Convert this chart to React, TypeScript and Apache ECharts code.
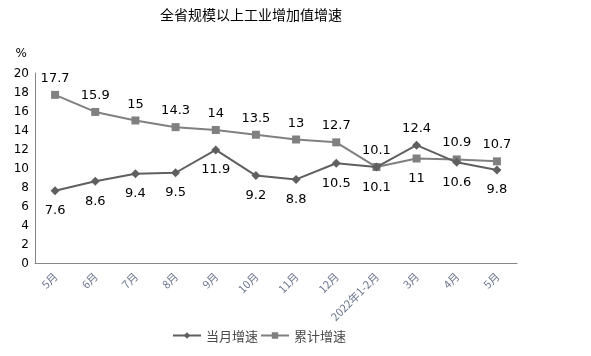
import React, { useEffect, useRef } from "react";
import * as echarts from "echarts";

const categories = ["5月", "6月", "7月", "8月", "9月", "10月", "11月", "12月", "2022年1-2月", "3月", "4月", "5月"];
const monthly = [7.6, 8.6, 9.4, 9.5, 11.9, 9.2, 8.8, 10.5, 10.1, 12.4, 10.6, 9.8];
const cumulative = [17.7, 15.9, 15, 14.3, 14, 13.5, 13, 12.7, 10.1, 11, 10.9, 10.7];
const monthlyLabelPos = ["bottom", "bottom", "bottom", "bottom", "bottom", "bottom", "bottom", "bottom", "bottom", "top", "bottom", "bottom"];
const cumulativeLabelPos = ["top", "top", "top", "top", "top", "top", "top", "top", "top", "bottom", "top", "top"];

const FONT = "'DejaVu Sans', 'Noto Sans CJK SC', sans-serif";

function lbl(pos: string) {
  return { position: pos, distance: pos === "top" ? 7 : 8 };
}

export default function App() {
  const ref = useRef<HTMLDivElement>(null);
  useEffect(() => {
    const chart = echarts.init(ref.current!, null, { renderer: "svg" });
    chart.setOption({
      animation: false,
      textStyle: { fontFamily: FONT },
      title: {
        text: "全省规模以上工业增加值增速",
        left: 155,
        top: 2,
        textStyle: { fontSize: 14, fontWeight: "normal", color: "#000", fontFamily: "'Noto Sans CJK SC', sans-serif" },
      },
      legend: {
        bottom: 9,
        left: 167,
        itemWidth: 28,
        itemHeight: 8,
        itemGap: 2,
        textStyle: { fontSize: 13, color: "#4a4a4a", fontFamily: "'Noto Sans CJK SC', sans-serif" },
        data: ["当月增速", "累计增速"],
      },
      grid: { left: 35, right: 74, top: 73, bottom: 93 },
      xAxis: {
        type: "category",
        data: categories,
        boundaryGap: true,
        axisLine: { lineStyle: { color: "#868686" } },
        axisTick: { show: false },
        axisLabel: { rotate: 45, fontSize: 11, color: "#6c7690", margin: 11, interval: 0, fontFamily: "'Noto Sans CJK SC', sans-serif" },
      },
      yAxis: {
        type: "value",
        min: 0,
        max: 20,
        interval: 2,
        name: "%",
        nameLocation: "end",
        nameGap: 14,
        nameTextStyle: { color: "#000", fontSize: 12, align: "right", padding: [0, 8, 0, 0] },
        axisLine: { show: true, lineStyle: { color: "#868686" } },
        axisTick: { show: false },
        splitLine: { show: false },
        axisLabel: { fontSize: 12, color: "#000", margin: 6 },
      },
      series: [
        {
          name: "当月增速",
          type: "line",
          data: monthly.map((v, i) => ({ value: v, label: lbl(monthlyLabelPos[i]) })),
          symbol: "diamond",
          symbolSize: 9,
          itemStyle: { color: "#5f5f5f" },
          lineStyle: { color: "#5f5f5f", width: 2 },
          label: { show: true, fontSize: 13, color: "#000" },
          z: 3,
        },
        {
          name: "累计增速",
          type: "line",
          data: cumulative.map((v, i) => ({ value: v, label: lbl(cumulativeLabelPos[i]) })),
          symbol: "rect",
          symbolSize: 8,
          itemStyle: { color: "#808080" },
          lineStyle: { color: "#808080", width: 2 },
          label: { show: true, fontSize: 13, color: "#000" },
          z: 2,
        },
      ],
    });
    return () => chart.dispose();
  }, []);
  return <div ref={ref} style={{ position: "fixed", left: 0, top: 0, width: 591, height: 356 }} />;
}
